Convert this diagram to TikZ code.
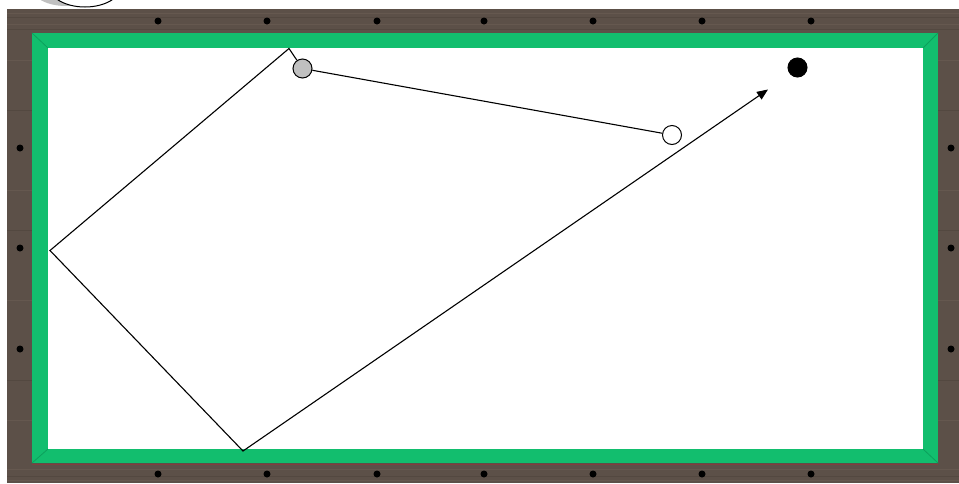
\documentclass[tikz,border=0pt]{standalone}
\usetikzlibrary{arrows.meta}
\definecolor{wood}{RGB}{92,80,72}
\definecolor{woodlight}{RGB}{122,108,98}
\definecolor{wooddark}{RGB}{64,54,48}
\definecolor{felt}{RGB}{18,190,110}
\definecolor{feltdark}{RGB}{12,160,92}
\definecolor{rail}{RGB}{130,62,62}
\definecolor{ballgray}{RGB}{192,192,192}
\tikzset{
  diamond dot/.style={circle,fill=black,inner sep=0pt,minimum size=7pt},
  ball/.style={circle,draw=black,line width=1pt,inner sep=0pt,minimum size=19pt},
  shot/.style={draw=black,line width=1.1pt},
}
\begin{document}
\begin{tikzpicture}[x=1pt,y=-1pt]
\useasboundingbox (0,0) rectangle (959,483);
\fill[white] (0,0) rectangle (959,483);
% callout remnant at top-left
\begin{scope}
\clip (0,0) rectangle (959,9);
\fill[ballgray] (66,-12) ellipse (34 and 18);
\filldraw[fill=white,draw=black,line width=1pt] (85,-14) ellipse (36 and 21);
\end{scope}
% wooden frame
\fill[wood] (7,9) rectangle (959,483);
\foreach \yy/\c in {13/woodlight,17/wooddark,24/woodlight,29/wooddark,469/woodlight,476/wooddark,480/woodlight}{
  \draw[\c,line width=1pt,opacity=0.3] (7,\yy) -- (959,\yy);}
\foreach \yy/\c in {60/woodlight,110/wooddark,190/woodlight,230/wooddark,300/woodlight,380/wooddark,420/woodlight}{
  \draw[\c,line width=1pt,opacity=0.3] (7,\yy) -- (32,\yy) (938,\yy) -- (959,\yy);}
% felt cushion
\fill[felt] (32,33) rectangle (938,463);
\draw[feltdark,line width=0.8pt] (32,33) -- (48,48) (938,33) -- (923,48) (32,463) -- (48,449) (938,463) -- (923,449);
\draw[rail,line width=1.5pt] (32,464.5) -- (938,464.5);
% playing surface
\fill[white] (48,48) rectangle (923,449);
% diamonds
\foreach \xx [count=\i] in {158,267,377,484,593,702,811}{
  \node[diamond dot] (dt\i) at (\xx,21) {};
  \node[diamond dot] (db\i) at (\xx,474) {};}
\foreach \yy [count=\i] in {148,248,349}{
  \node[diamond dot] (dl\i) at (20,\yy) {};
  \node[diamond dot] (dr\i) at (951,\yy) {};}
% balls
\node[ball,fill=ballgray] (gray) at (302.5,68.5) {};
\node[ball,fill=white] (cue) at (672,135) {};
\node[ball,fill=black] (black) at (797.5,67.5) {};
% path points
\coordinate (c1) at (289,48.5);
\coordinate (c2) at (50,250.5);
\coordinate (c3) at (243,451);
\coordinate (tip) at (768,89.5);
\draw[shot] (cue) -- (gray);
\draw[shot,-{Triangle[length=11pt,width=9pt]}] (gray) -- (c1) -- (c2) -- (c3) -- (tip);
\end{tikzpicture}
\end{document}
